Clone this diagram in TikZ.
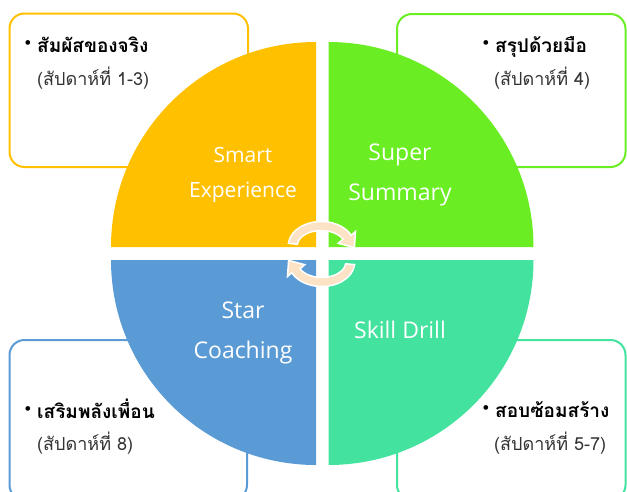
\documentclass[tikz,border=0pt]{standalone}
\usepackage{fontspec}
\usepackage{tikz}
\usetikzlibrary{positioning}
\newfontfamily\thaifont[Script=Thai]{Loma}
\newfontfamily\labelfont{Open Sans}
\definecolor{myorange}{HTML}{FFC000}
\definecolor{mylime}{HTML}{6AEE23}
\definecolor{myteal}{HTML}{43E29E}
\definecolor{myblue}{HTML}{5B9BD5}
\definecolor{mypeach}{HTML}{FCE3C6}

\begin{document}
\begin{tikzpicture}[x=1pt,y=-1pt,
    box/.style={rounded corners=15pt,line width=2pt},
    quarter/.style={text=white,font=\labelfont\fontsize{23}{40}\selectfont,align=center},
    thaimain/.style={anchor=base west,inner sep=0pt,font=\thaifont\bfseries\fontsize{19}{19}\selectfont},
    thaisub/.style={anchor=base west,inner sep=0pt,text=black!80,font=\thaifont\fontsize{18}{18}\selectfont},
    dot/.style={inner sep=0pt,font=\fontsize{21}{21}\selectfont},
    turn/.style={fill=mypeach,draw=white,line width=1.5pt}]
    \useasboundingbox (0,0) rectangle (627,491);
    % กรอบมุมทั้งสี่
    \draw[box,myorange] (9.5,13.5) rectangle (248,167);
    \draw[box,mylime] (397,14) rectangle (625.5,167);
    \draw[box,myblue] (9.5,340) rectangle (247,500);
    \draw[box,myteal] (397,340) rectangle (625.5,500);

    \coordinate (c) at (322.25,253.5);
    \fill[myorange] ([shift={(-6.25,-6.5)}]c) -- ++(-205,0) arc[start angle=180,end angle=270,radius=205] -- cycle;
    \fill[mylime] ([shift={(6.25,-6.5)}]c) -- ++(0,-205) arc[start angle=270,end angle=360,radius=205] -- cycle;
    \fill[myblue] ([shift={(-6.25,6.5)}]c) -- ++(0,205) arc[start angle=90,end angle=180,radius=205] -- cycle;
    \fill[myteal] ([shift={(6.25,6.5)}]c) -- ++(205,0) arc[start angle=0,end angle=90,radius=205] -- cycle;

    \foreach \ang in {0,180}
      \filldraw[turn,rotate around={\ang:(321.5,254)}] (288.4,243.4)
        arc[start angle=185,end angle=335,x radius=33,y radius=24]
        -- (355.5,231.5) -- (354.4,247.6) -- (338.2,243.3) -- (343.0,239.2)
        arc[start angle=335,end angle=185,x radius=24,y radius=15] -- cycle;

    \node[quarter,font=\labelfont\fontsize{21}{35}\selectfont] (smart) at (243,175) {Smart\\Experience};
    \node[quarter] (super) at (400,174.5) {Super\\Summary};
    \node[quarter] (star) at (243,332.5) {Star\\Coaching};
    \node[quarter] (skill) at (400,330) {Skill Drill};

    \node[thaimain] (t1) at (37,52) {สัมผัสของจริง};
    \node[thaisub] (s1) at (37,85) {(สัปดาห์ที่ 1-3)};
    \node[thaimain] (t2) at (495,52) {สรุปด้วยมือ};
    \node[thaisub] (s2) at (494,85) {(สัปดาห์ที่ 4)};
    \node[thaimain] (t3) at (37,418) {เสริมพลังเพื่อน};
    \node[thaisub] (s3) at (37,450) {(สัปดาห์ที่ 8)};
    \node[thaimain] (t4) at (495,417) {สอบซ้อมสร้าง};
    \node[thaisub] (s4) at (494,450) {(สัปดาห์ที่ 5-7)};
    \foreach \t in {t1,t2,t3,t4}
      \node[dot] (b\t) at ([xshift=-9pt,yshift=7pt]\t.base west) {\textbullet};
\end{tikzpicture}
\end{document}
